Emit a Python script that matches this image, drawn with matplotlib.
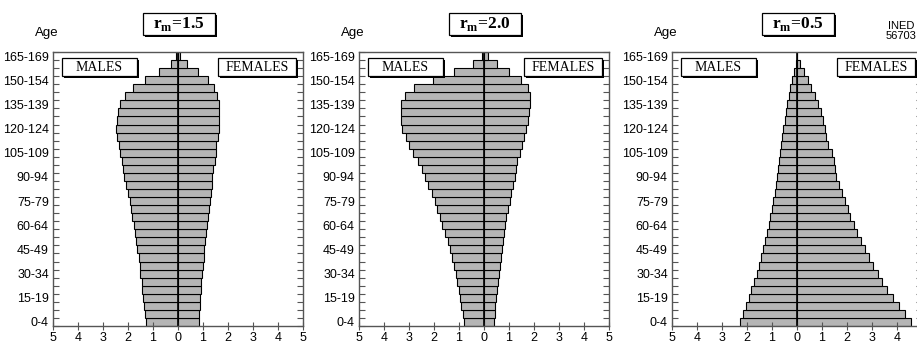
"""Three stable-population pyramids for different values of r_m."""

import matplotlib
matplotlib.use("Agg")
import matplotlib.pyplot as plt
from matplotlib.patches import Rectangle
import numpy as np

SANS = ["Liberation Sans Narrow", "Liberation Sans", "DejaVu Sans"]
plt.rcParams["font.family"] = SANS
plt.rcParams["mathtext.fontset"] = "custom"
plt.rcParams["mathtext.rm"] = "Liberation Serif:bold"
plt.rcParams["mathtext.bf"] = "Liberation Serif:bold"

# age groups, youngest first
age_groups = [f"{a}-{a + 4}" for a in range(0, 170, 5)]

panel_titles = ["1.5", "2.0", "0.5"]

# values, 0-4 upwards
males_15 = [1.27, 1.31, 1.35, 1.40, 1.43, 1.45, 1.51, 1.53, 1.57, 1.63, 1.67, 1.72,
            1.77, 1.83, 1.89, 1.93, 1.99, 2.07, 2.15, 2.20, 2.25, 2.33, 2.37, 2.44,
            2.47, 2.44, 2.40, 2.31, 2.12, 1.80, 1.31, 0.76, 0.29, 0.07]
females_15 = [0.83, 0.85, 0.88, 0.89, 0.92, 0.93, 0.96, 1.00, 1.03, 1.05, 1.08, 1.12,
              1.16, 1.19, 1.23, 1.27, 1.32, 1.35, 1.37, 1.41, 1.48, 1.51, 1.53, 1.61,
              1.64, 1.64, 1.64, 1.63, 1.57, 1.44, 1.19, 0.81, 0.36, 0.08]

males_20 = [0.80, 0.85, 0.91, 0.96, 1.00, 1.07, 1.13, 1.21, 1.29, 1.36, 1.44, 1.56,
            1.67, 1.76, 1.87, 1.97, 2.09, 2.24, 2.37, 2.47, 2.64, 2.83, 2.99, 3.13,
            3.27, 3.33, 3.33, 3.31, 3.16, 2.80, 2.05, 1.20, 0.45, 0.08]
females_20 = [0.40, 0.43, 0.45, 0.48, 0.51, 0.55, 0.59, 0.63, 0.67, 0.71, 0.76, 0.80,
              0.84, 0.89, 0.96, 1.03, 1.07, 1.16, 1.23, 1.28, 1.33, 1.43, 1.51, 1.60,
              1.69, 1.76, 1.81, 1.84, 1.84, 1.77, 1.49, 1.00, 0.51, 0.16]

males_05 = [2.29, 2.17, 2.04, 1.92, 1.83, 1.72, 1.61, 1.51, 1.44, 1.36, 1.27, 1.20,
            1.13, 1.07, 1.00, 0.95, 0.89, 0.84, 0.80, 0.76, 0.72, 0.68, 0.63, 0.60,
            0.56, 0.49, 0.45, 0.39, 0.33, 0.27, 0.19, 0.12, 0.04, 0.0]
females_05 = [4.57, 4.32, 4.07, 3.84, 3.61, 3.41, 3.23, 3.04, 2.87, 2.71, 2.55, 2.41,
              2.27, 2.13, 2.03, 1.91, 1.81, 1.67, 1.57, 1.51, 1.47, 1.40, 1.24, 1.16,
              1.11, 1.03, 0.95, 0.85, 0.73, 0.57, 0.44, 0.28, 0.12, 0.0]

panels = [(males_15, females_15), (males_20, females_20), (males_05, females_05)]

x_ticks = np.arange(-5, 6)
x_ticklabels = [str(abs(v)) for v in x_ticks]

BAR = "#b5b5b5"
SPINE = "#555555"
AX_W, AX_H = 250, 274  # axes size in px


def shadow_box(ax, x0, y0, x1, y1, text, **kw):
    """White box with a black drop shadow (axes coords) and centred text."""
    dx, dy = 2.2 / AX_W, 2.2 / AX_H
    ax.add_patch(Rectangle((x0 + dx, y0 - dy), x1 - x0, y1 - y0, transform=ax.transAxes,
                           fc="black", ec="black", lw=0, clip_on=False, zorder=5))
    ax.add_patch(Rectangle((x0, y0), x1 - x0, y1 - y0, transform=ax.transAxes,
                           fc="white", ec="black", lw=0.9, clip_on=False, zorder=6))
    ax.text((x0 + x1) / 2, (y0 + y1) / 2, text, transform=ax.transAxes, ha="center",
            va="center", zorder=7, **kw)


fig = plt.figure(figsize=(9.17, 3.45), dpi=100)
lefts = [53, 359, 672]

for left, (males, females), tval in zip(lefts, panels, panel_titles):
    ax = fig.add_axes([left / 917, 19 / 345, AX_W / 917, AX_H / 345])
    y = np.arange(len(age_groups))
    ax.barh(y, -np.array(males), height=1.0, color=BAR, edgecolor="black", linewidth=0.8)
    ax.barh(y, females, height=1.0, color=BAR, edgecolor="black", linewidth=0.8)
    ax.axvline(0, color="black", linewidth=1.2)

    ax.set_xlim(-5, 5)
    ax.set_ylim(-0.5, len(age_groups) - 0.5)
    ax.set_xticks(x_ticks)
    ax.set_xticklabels(x_ticklabels, fontsize=9)
    ax.set_yticks(y[::3])
    ax.set_yticklabels(age_groups[::3], fontsize=9)
    ax.set_yticks(np.arange(len(age_groups) + 1) - 0.5, minor=True)
    ax.tick_params(axis="y", which="major", length=0, pad=3)
    ax.tick_params(axis="y", which="minor", direction="in", left=True, right=True,
                   length=4, width=0.8, color=SPINE)
    ax.tick_params(axis="x", direction="inout", length=6, width=0.8, color=SPINE, pad=1.2)
    for sp in ax.spines.values():
        sp.set_color(SPINE)
        sp.set_linewidth(1.0)

    ax.text(-0.025, 1.07, "Age", transform=ax.transAxes, ha="center", va="center",
            fontsize=9.5)

    shadow_box(ax, 0.36, 1.062, 0.648, 1.142, "r$_{\\mathrm{m}}$=" + tval,
               fontsize=12.5, fontweight="bold", family="Liberation Serif")
    shadow_box(ax, 0.036, 0.912, 0.336, 0.978, "MALES", fontsize=10,
               family="Liberation Serif")
    shadow_box(ax, 0.66, 0.912, 0.972, 0.978, "FEMALES", fontsize=10,
               family="Liberation Serif")

fig.text(901 / 917, 1 - 31 / 345, "INED\n56703", ha="center", va="center",
         fontsize=8, linespacing=0.95)

fig.savefig("out.png", dpi=100)
plt.close(fig)
